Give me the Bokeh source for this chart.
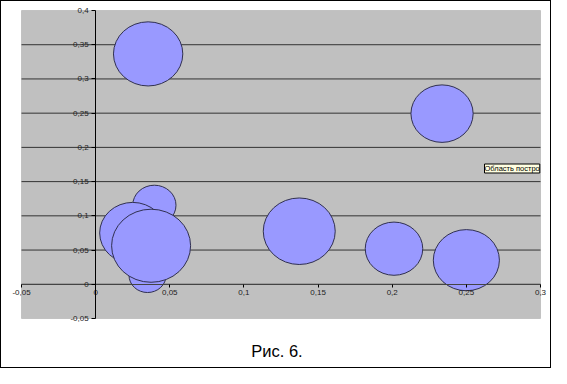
from bokeh.plotting import figure
from bokeh.models import FixedTicker, Label, ColumnDataSource, BoxAnnotation
from bokeh.embed import file_html
from bokeh.resources import INLINE
import math

# Bubble data (drawing order as in the reference)
bubble_x = [0.0354, 0.2336, 0.0396, 0.0350, 0.0250, 0.0374, 0.1373, 0.2012, 0.2500]
bubble_y = [0.3366, 0.2493, 0.1155, 0.0130, 0.0750, 0.0563, 0.0775, 0.0520, 0.0352]
bubble_size = [0.77, 0.62, 0.30, 0.22, 0.70, 1.00, 0.83, 0.53, 0.70]

x_ticks = [-0.05, 0.0, 0.05, 0.1, 0.15, 0.2, 0.25, 0.3]
x_tick_labels = ["-0,05", "0", "0,05", "0,1", "0,15", "0,2", "0,25", "0,3"]
y_ticks = [-0.05, 0.0, 0.05, 0.1, 0.15, 0.2, 0.25, 0.3, 0.35, 0.4]
y_tick_labels = ["-0,05", "0", "0,05", "0,1", "0,15", "0,2", "0,25", "0,3", "0,35", "0,4"]

caption = "Рис. 6."
tooltip_text = "Область постро"

# ---- layout (pixels) ----
W, H = 549, 366                 # canvas inside the 1px page border
PL, PR, PT, PB = 20, 10, 9, 49  # white space around the grey plot area
x0, x1 = x_ticks[0], x_ticks[-1]
y0, y1 = y_ticks[0], y_ticks[-1]
ppx = (W - PL - PR) / (x1 - x0)
ppy = (H - PT - PB) / (y1 - y0)
xr = (x0 - PL / ppx, x1 + PR / ppx)
yr = (y0 - PB / ppy, y1 + PT / ppy)

def px_x(px):
    return xr[0] + px / ppx

def px_y(py):
    return yr[1] - py / ppy

max_d = 79
w = [max_d * math.sqrt(s) for s in bubble_size]
h = [d * 0.925 for d in w]
src = ColumnDataSource(dict(x=bubble_x, y=bubble_y, w=w, h=h))

p = figure(frame_width=W, frame_height=H, x_range=xr, y_range=yr,
           output_backend="svg", toolbar_location=None,
           min_border_left=0, min_border_right=0, min_border_top=0, min_border_bottom=0)
p.styles = {"border": "1px solid black"}
p.background_fill_color = "white"
p.border_fill_color = "white"
p.outline_line_color = None

# grey plot area
p.add_layout(BoxAnnotation(left=x0, right=x1, bottom=y0, top=y1, fill_color="#C0C0C0",
                           fill_alpha=1, line_color="#808080", line_width=1, level="image"))

p.xgrid.visible = False
p.ygrid.visible = False
grid_y = y_ticks[1:-1]
p.segment(x0=[x0] * len(grid_y), x1=[x1] * len(grid_y), y0=grid_y, y1=grid_y,
          line_color="#333333", line_width=1)

for ax, ticks, labels in ((p.xaxis[0], x_ticks, x_tick_labels), (p.yaxis[0], y_ticks, y_tick_labels)):
    ax.ticker = FixedTicker(ticks=ticks)
    ax.major_label_overrides = {t: l for t, l in zip(ticks, labels)}
    ax.fixed_location = 0
    ax.bounds = (ticks[0], ticks[-1])
    ax.axis_line_color = "black"
    ax.major_tick_line_color = "black"
    ax.minor_tick_line_color = None
    ax.major_tick_out = 4
    ax.major_tick_in = 0
    ax.major_label_text_font = "Liberation Sans"
    ax.major_label_text_font_size = "8px"
    ax.major_label_text_color = "#222222"
    ax.major_label_standoff = 3

p.xaxis.axis_line_color = "#444444"
p.xaxis.major_tick_out = 3

p.ellipse(x="x", y="y", width="w", height="h", width_units="screen", height_units="screen",
          source=src, fill_color="#9999FF", line_color="#303050", line_width=1)

p.add_layout(Label(x=px_x(483), y=px_y(167), text=tooltip_text, text_font="Liberation Sans",
                   text_font_size="7.5px", text_baseline="middle", text_color="black",
                   background_fill_color="#FFFFE1", border_line_color="black"))

p.add_layout(Label(x=px_x(275.5), y=px_y(349), text=caption, text_font="Liberation Sans",
                   text_font_size="16.5px", text_align="center", text_baseline="middle",
                   text_color="black"))

open("out.html", "w").write(file_html(p, INLINE))
